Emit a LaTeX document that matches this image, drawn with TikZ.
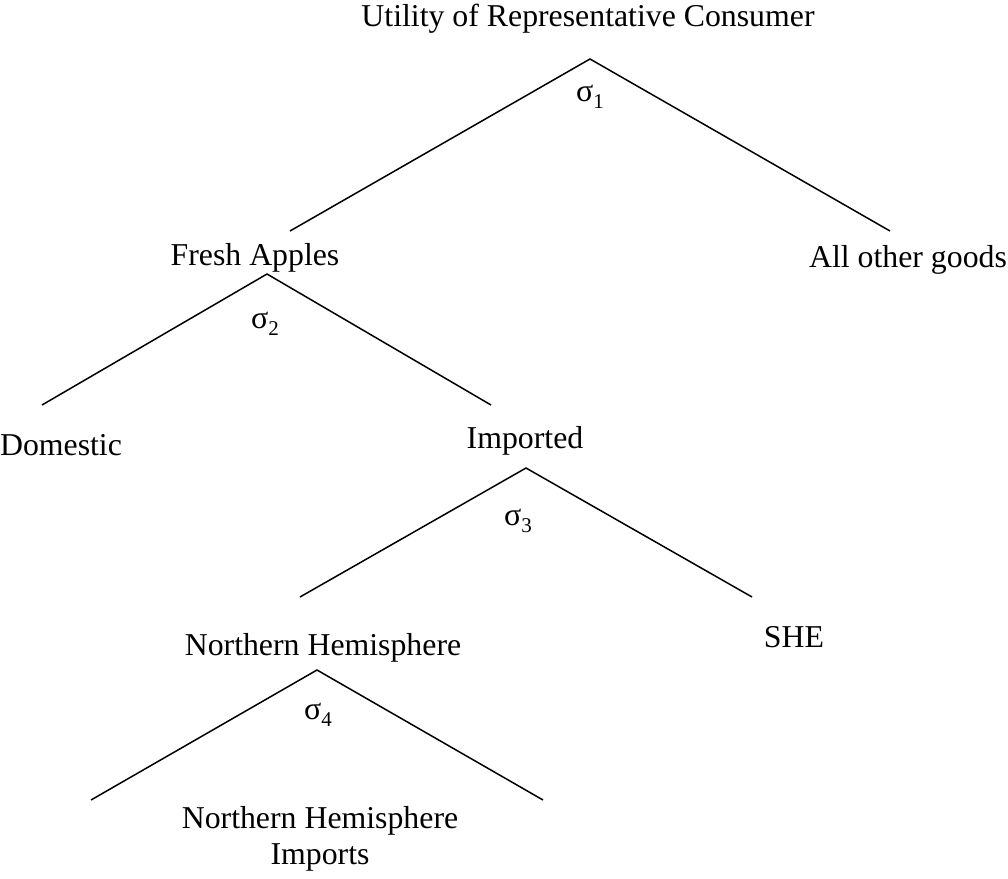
\documentclass[tikz,border=0pt]{standalone}
\usepackage{fontspec}
\setmainfont{Liberation Serif}
\newcommand{\sig}[1]{σ\raisebox{-0.22em}{\fontsize{21}{21}\selectfont #1}}
\tikzset{
  lbl/.style={anchor=base, inner sep=0pt, font=\fontsize{31.8}{36}\selectfont, align=center},
  siglbl/.style={anchor=base, inner sep=0pt, font=\fontsize{32}{36}\selectfont},
  branch/.style={line width=1.5pt, line join=miter}
}
\begin{document}
\begin{tikzpicture}[x=1pt,y=-1pt]
\useasboundingbox (0,0) rectangle (1008,878);
% labels
\node[lbl] (u) at (588,27) {Utility of Representative Consumer};
\node[lbl] (fa) at (255,265) {Fresh Apples};
\node[lbl] (og) at (908,267) {All other goods};
\node[lbl] (dom) at (61,455) {Domestic};
\node[lbl] (imp) at (525,448) {Imported};
\node[lbl] (she) at (794,647) {SHE};
\node[lbl] (nh) at (323,655) {Northern Hemisphere};
\node[lbl, anchor=north] (nhi) at (320,806) {Northern Hemisphere\\Imports};
% sigma labels
\node[siglbl] (s1) at (590,101) {\sig{1}};
\node[siglbl] (s2) at (265,328) {\sig{2}};
\node[siglbl] (s3) at (518,525) {\sig{3}};
\node[siglbl] (s4) at (318,719) {\sig{4}};
% branch points
\coordinate (a1) at (590,59);
\coordinate (l1) at (290,231);
\coordinate (r1) at (890,231);
\coordinate (a2) at (267,274);
\coordinate (l2) at (42,405);
\coordinate (r2) at (491,405);
\coordinate (a3) at (526,468);
\coordinate (l3) at (300,597);
\coordinate (r3) at (752,597);
\coordinate (a4) at (317,670);
\coordinate (l4) at (91,800);
\coordinate (r4) at (543,800);
\draw[branch] (l1) -- (a1) -- (r1);
\draw[branch] (l2) -- (a2) -- (r2);
\draw[branch] (l3) -- (a3) -- (r3);
\draw[branch] (l4) -- (a4) -- (r4);
\end{tikzpicture}
\end{document}
